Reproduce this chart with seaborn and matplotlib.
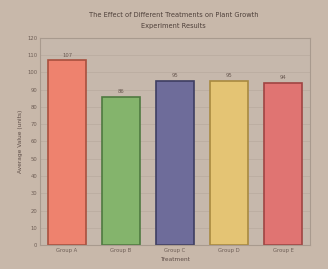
import matplotlib
matplotlib.use("Agg")
import matplotlib.pyplot as plt
import seaborn as sns
import pandas as pd

categories = ["Group A", "Group B", "Group C", "Group D", "Group E"]
values = [107, 86, 95, 95, 94]
colors = ["#ee826e", "#84b46c", "#6e6c9a", "#e4c474", "#e07472"]
edge_colors = ["#a8503e", "#4e7a40", "#3e3e62", "#a88a40", "#a04442"]
yticks = list(range(0, 121, 10))

sns.set_style("white")
plt.rcParams['font.family'] = ['DejaVu Sans']

df = pd.DataFrame({"cat": categories, "val": values})

fig = plt.figure(figsize=(3.28, 2.69), dpi=100)
fig.patch.set_facecolor("#c8b8aa")
ax = fig.add_axes([0.122, 0.089, 0.823, 0.77])
ax.set_facecolor("#c6b8ac")

sns.barplot(data=df, x="cat", y="val", hue="cat", palette=colors,
            width=0.7, legend=False, ax=ax, saturation=1)
for patch, ec in zip(ax.patches, edge_colors):
    patch.set_edgecolor(ec)
    patch.set_linewidth(1.2)

for i, v in enumerate(values):
    ax.text(i, v + 1.5, str(v), ha="center", va="bottom", fontsize=3.8, color="#6a5a52")

ax.set_ylim(0, 120)
ax.set_yticks(yticks)
ax.tick_params(axis="both", labelsize=3.8, colors="#6e5e56", length=0, pad=2)
ax.yaxis.grid(True, color="#b8aa9e", linewidth=0.5)
ax.set_axisbelow(True)
for s in ax.spines.values():
    s.set_color("#a89a8e")
    s.set_linewidth(0.8)

ax.set_xlabel("Treatment", fontsize=4.2, color="#5e4e48", labelpad=3)
ax.set_ylabel("Average Value (units)", fontsize=4.2, color="#5e4e48", labelpad=3)

fig.text(0.53, 0.945, "The Effect of Different Treatments on Plant Growth",
         ha="center", va="center", fontsize=4.8, color="#4e403a")
fig.text(0.53, 0.905, "Experiment Results", ha="center", va="center",
         fontsize=4.8, color="#4e403a")

fig.savefig("out.png", dpi=100, facecolor=fig.get_facecolor())
